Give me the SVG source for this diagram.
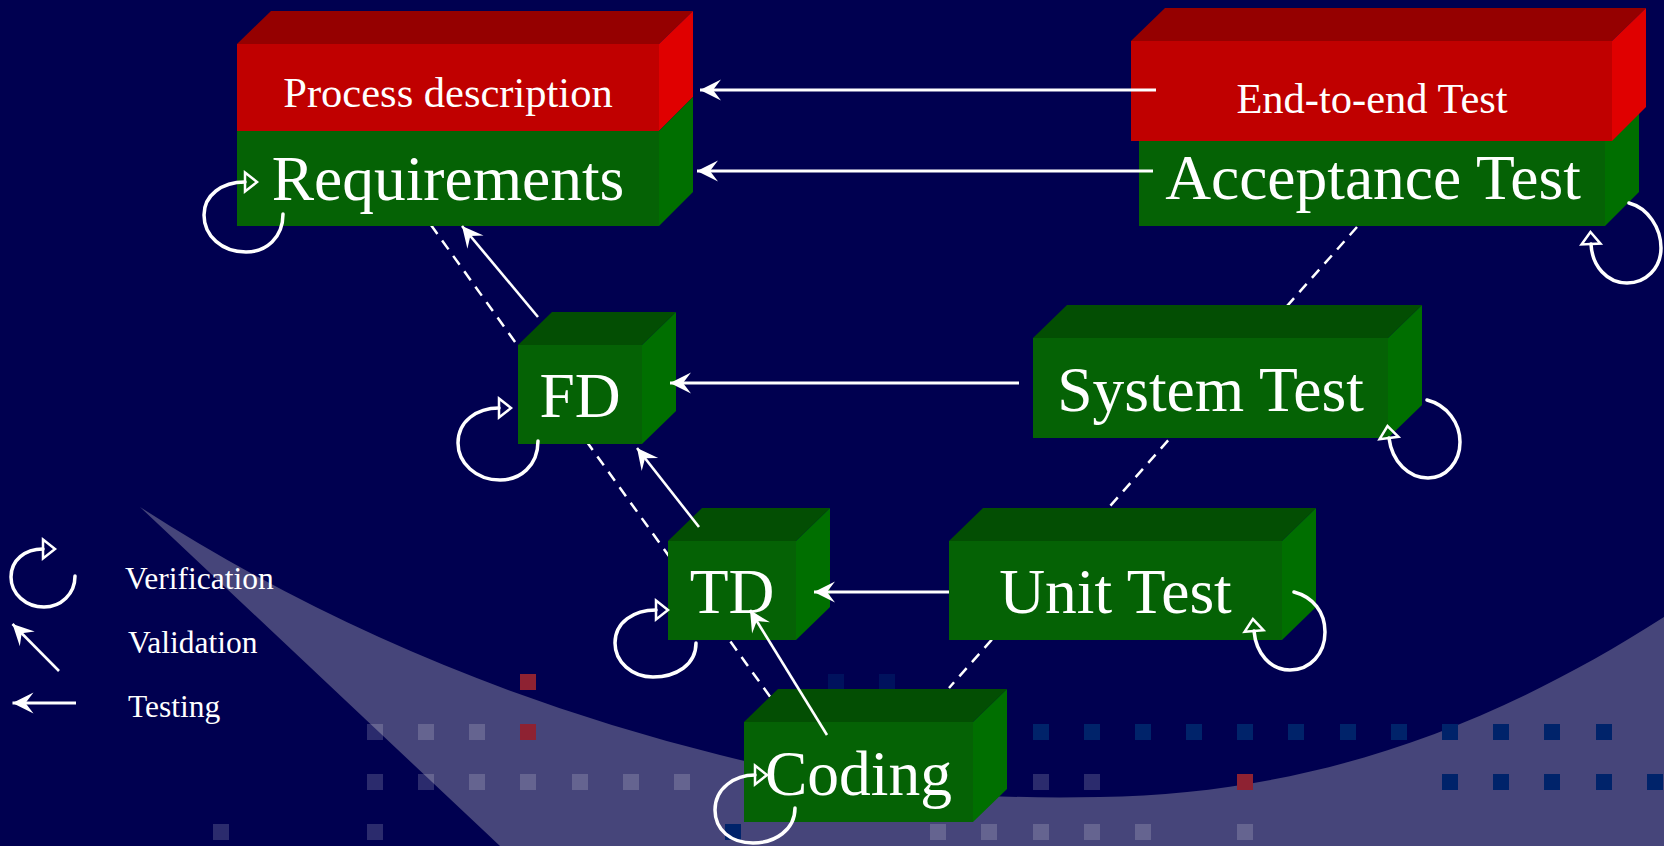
<svg xmlns="http://www.w3.org/2000/svg" width="1664" height="846" viewBox="0 0 1664 846">
<defs>
<style>
.gf{fill:#056205}.gt{fill:#034e03}.gr{fill:#006f00}
.rf{fill:#c00000}.rt{fill:#950000}.rr{fill:#e00000}
.big{font-family:"Liberation Serif","Times New Roman",serif;font-size:63.5px;fill:#fff;text-anchor:middle}
.mid{font-family:"Liberation Serif","Times New Roman",serif;font-size:42.5px;fill:#fff;text-anchor:middle}
.leg{font-family:"Liberation Serif","Times New Roman",serif;font-size:31.5px;fill:#fff}
.dash{fill:none;stroke:#fff;stroke-width:2.5;stroke-dasharray:11 8}
.test{fill:none;stroke:#fff;stroke-width:3;marker-end:url(#ah)}
.val{fill:none;stroke:#fff;stroke-width:2.6;marker-end:url(#ah)}
.loop{fill:none;stroke:#fff;stroke-width:3.5;stroke-linecap:round;marker-end:url(#oh)}
.sqg{fill:#fff;fill-opacity:0.17}.sqb{fill:#00236a}.sqr{fill:#8e2232}
</style>
<marker id="ah" markerUnits="userSpaceOnUse" markerWidth="1" markerHeight="1" refX="0" refY="0" orient="auto" overflow="visible">
<path d="M0,0 L-21,-10.5 L-13,0 L-21,10.5 Z" fill="#fff"/>
</marker>
<marker id="oh" markerUnits="userSpaceOnUse" markerWidth="1" markerHeight="1" refX="0" refY="0" orient="auto" overflow="visible">
<path d="M0,-9.5 L12,0 L0,9.5 Z" fill="none" stroke="#fff" stroke-width="2.5" stroke-linejoin="miter"/>
</marker>
</defs>
<g id="background">
<rect x="0" y="0" width="1664" height="846" fill="#000050"/>
<path d="M140,507 Q400,675 720,755 C850,787 950,800 1100,797 C1300,794 1480,735 1664,617 L1664,846 L500,846 Z" fill="#46457a"/>
<g id="squares">
<rect class="sqr" x="520" y="674" width="16" height="16"/>
<rect class="sqb" x="828" y="674" width="16" height="16" fill-opacity="0.5"/>
<rect class="sqb" x="879" y="674" width="16" height="16" fill-opacity="0.5"/>
<rect class="sqg" x="367" y="724" width="16" height="16"/>
<rect class="sqg" x="418" y="724" width="16" height="16"/>
<rect class="sqg" x="469" y="724" width="16" height="16"/>
<rect class="sqr" x="520" y="724" width="16" height="16"/>
<rect class="sqb" x="1033" y="724" width="16" height="16"/>
<rect class="sqb" x="1084" y="724" width="16" height="16"/>
<rect class="sqb" x="1135" y="724" width="16" height="16"/>
<rect class="sqb" x="1186" y="724" width="16" height="16"/>
<rect class="sqb" x="1237" y="724" width="16" height="16"/>
<rect class="sqb" x="1288" y="724" width="16" height="16"/>
<rect class="sqb" x="1340" y="724" width="16" height="16"/>
<rect class="sqb" x="1391" y="724" width="16" height="16"/>
<rect class="sqb" x="1442" y="724" width="16" height="16"/>
<rect class="sqb" x="1493" y="724" width="16" height="16"/>
<rect class="sqb" x="1544" y="724" width="16" height="16"/>
<rect class="sqb" x="1596" y="724" width="16" height="16"/>
<rect class="sqg" x="367" y="774" width="16" height="16"/>
<rect class="sqg" x="418" y="774" width="16" height="16"/>
<rect class="sqg" x="469" y="774" width="16" height="16"/>
<rect class="sqg" x="520" y="774" width="16" height="16"/>
<rect class="sqg" x="572" y="774" width="16" height="16"/>
<rect class="sqg" x="623" y="774" width="16" height="16"/>
<rect class="sqg" x="674" y="774" width="16" height="16"/>
<rect class="sqg" x="1033" y="774" width="16" height="16"/>
<rect class="sqg" x="1084" y="774" width="16" height="16"/>
<rect class="sqr" x="1237" y="774" width="16" height="16"/>
<rect class="sqb" x="1442" y="774" width="16" height="16"/>
<rect class="sqb" x="1493" y="774" width="16" height="16"/>
<rect class="sqb" x="1544" y="774" width="16" height="16"/>
<rect class="sqb" x="1596" y="774" width="16" height="16"/>
<rect class="sqb" x="1647" y="774" width="16" height="16"/>
<rect class="sqg" x="213" y="824" width="16" height="16"/>
<rect class="sqg" x="367" y="824" width="16" height="16"/>
<rect class="sqb" x="725" y="824" width="16" height="16"/>
<rect class="sqg" x="930" y="824" width="16" height="16"/>
<rect class="sqg" x="981" y="824" width="16" height="16"/>
<rect class="sqg" x="1033" y="824" width="16" height="16"/>
<rect class="sqg" x="1084" y="824" width="16" height="16"/>
<rect class="sqg" x="1135" y="824" width="16" height="16"/>
<rect class="sqg" x="1237" y="824" width="16" height="16"/>
</g>
</g>
<g id="connectors-dashed">
<line class="dash" x1="431" y1="225" x2="771" y2="698"/>
<line class="dash" x1="1357" y1="227" x2="949" y2="688"/>
</g>
<g id="node-requirements">
<polygon class="rt" points="237,44 271,11 693,11 659,44"/>
<rect class="rf" x="237" y="44" width="422" height="87"/>
<rect class="gf" x="237" y="131" width="422" height="95"/>
<polygon class="rr" points="659,44 693,11 693,97 659,131"/>
<polygon class="gr" points="659,131 693,97 693,192 659,226"/>
<text class="mid" x="448" y="106.7">Process description</text>
<text class="big" x="448" y="200">Requirements</text>
</g>
<g id="node-acceptance">
<rect class="gf" x="1139" y="138" width="466" height="88"/>
<polygon class="gr" points="1605,138 1639,104 1639,192 1605,226"/>
<polygon class="rt" points="1131,41 1165,8 1646,8 1612,41"/>
<rect class="rf" x="1131" y="41" width="481" height="100"/>
<polygon class="rr" points="1612,41 1646,8 1646,107 1612,141"/>
<text class="mid" x="1372" y="113.3">End-to-end Test</text>
<text class="big" x="1373" y="199.3">Acceptance Test</text>
</g>
<g id="node-fd">
<polygon class="gt" points="518,345 552,312 676,312 642,345"/>
<rect class="gf" x="518" y="345" width="124" height="99"/>
<polygon class="gr" points="642,345 676,312 676,411 642,444"/>
<text class="big" x="580" y="416.7">FD</text>
</g>
<g id="node-system">
<polygon class="gt" points="1033,338 1067,305 1422,305 1388,338"/>
<rect class="gf" x="1033" y="338" width="355" height="100"/>
<polygon class="gr" points="1388,338 1422,305 1422,405 1388,438"/>
<text class="big" x="1210.5" y="410.7">System Test</text>
</g>
<g id="node-td">
<polygon class="gt" points="668,541 702,508 830,508 796,541"/>
<rect class="gf" x="668" y="541" width="128" height="99"/>
<polygon class="gr" points="796,541 830,508 830,607 796,640"/>
<text class="big" x="732" y="613.3">TD</text>
</g>
<g id="node-unit">
<polygon class="gt" points="949,541 983,508 1316,508 1282,541"/>
<rect class="gf" x="949" y="541" width="333" height="99"/>
<polygon class="gr" points="1282,541 1316,508 1316,607 1282,640"/>
<text class="big" x="1115.5" y="613.3">Unit Test</text>
</g>
<g id="node-coding">
<polygon class="gt" points="744,722 778,689 1007,689 973,722"/>
<rect class="gf" x="744" y="722" width="229" height="100"/>
<polygon class="gr" points="973,722 1007,689 1007,789 973,822"/>
<text class="big" x="858.5" y="795">Coding</text>
</g>
<g id="connectors">
<line class="test" x1="1156" y1="90" x2="700" y2="90"/>
<line class="test" x1="1153" y1="171" x2="697" y2="171"/>
<line class="test" x1="1019" y1="383" x2="670" y2="383"/>
<line class="test" x1="949" y1="592" x2="814" y2="592"/>
<line class="val" x1="538" y1="317" x2="462" y2="226"/>
<line class="val" x1="699" y1="527" x2="637" y2="448"/>
<line class="val" x1="827" y1="735" x2="750" y2="610"/>
<path class="loop" d="M283,214 C283,238 266,252 246,252 C222,252 204,236 204,215 C204,195 222,182 245,182"/>
<path class="loop" d="M538,441 C538,466 520,480 500,480 C476,480 458,463 458,443 C458,421 477,408 499,408"/>
<path class="loop" d="M696,643 C696,665 676,677 653,677 C632,677 615,662 615,643 C615,622 634,610 656,610"/>
<path class="loop" d="M795,808 C795,830 775,843 753,843 C731,843 715,830 715,810 C715,788 735,775 755,775"/>
<path class="loop" d="M1629,203 C1648,208 1661,228 1661,248 C1661,268 1646,283 1627,283 C1607,283 1592,266 1591,244"/>
<path class="loop" d="M1427,400 C1447,405 1460,423 1460,442 C1460,462 1446,478 1428,478 C1409,478 1392,462 1389,438"/>
<path class="loop" d="M1294,592 C1313,597 1325,612 1325,632 C1325,654 1310,670 1290,670 C1270,670 1256,653 1254,631"/>
</g>
<g id="legend">
<path class="loop" d="M75,576 C75,594 61,607 44,607 C26,607 11,594 11,577 C11,560 25,549 43,549"/>
<line class="val" x1="59" y1="671" x2="12.5" y2="624"/>
<line class="test" x1="76" y1="703" x2="12.5" y2="703"/>
<text class="leg" x="125" y="589.3">Verification</text>
<text class="leg" x="128" y="653.3">Validation</text>
<text class="leg" x="128" y="717.3">Testing</text>
</g>
</svg>
